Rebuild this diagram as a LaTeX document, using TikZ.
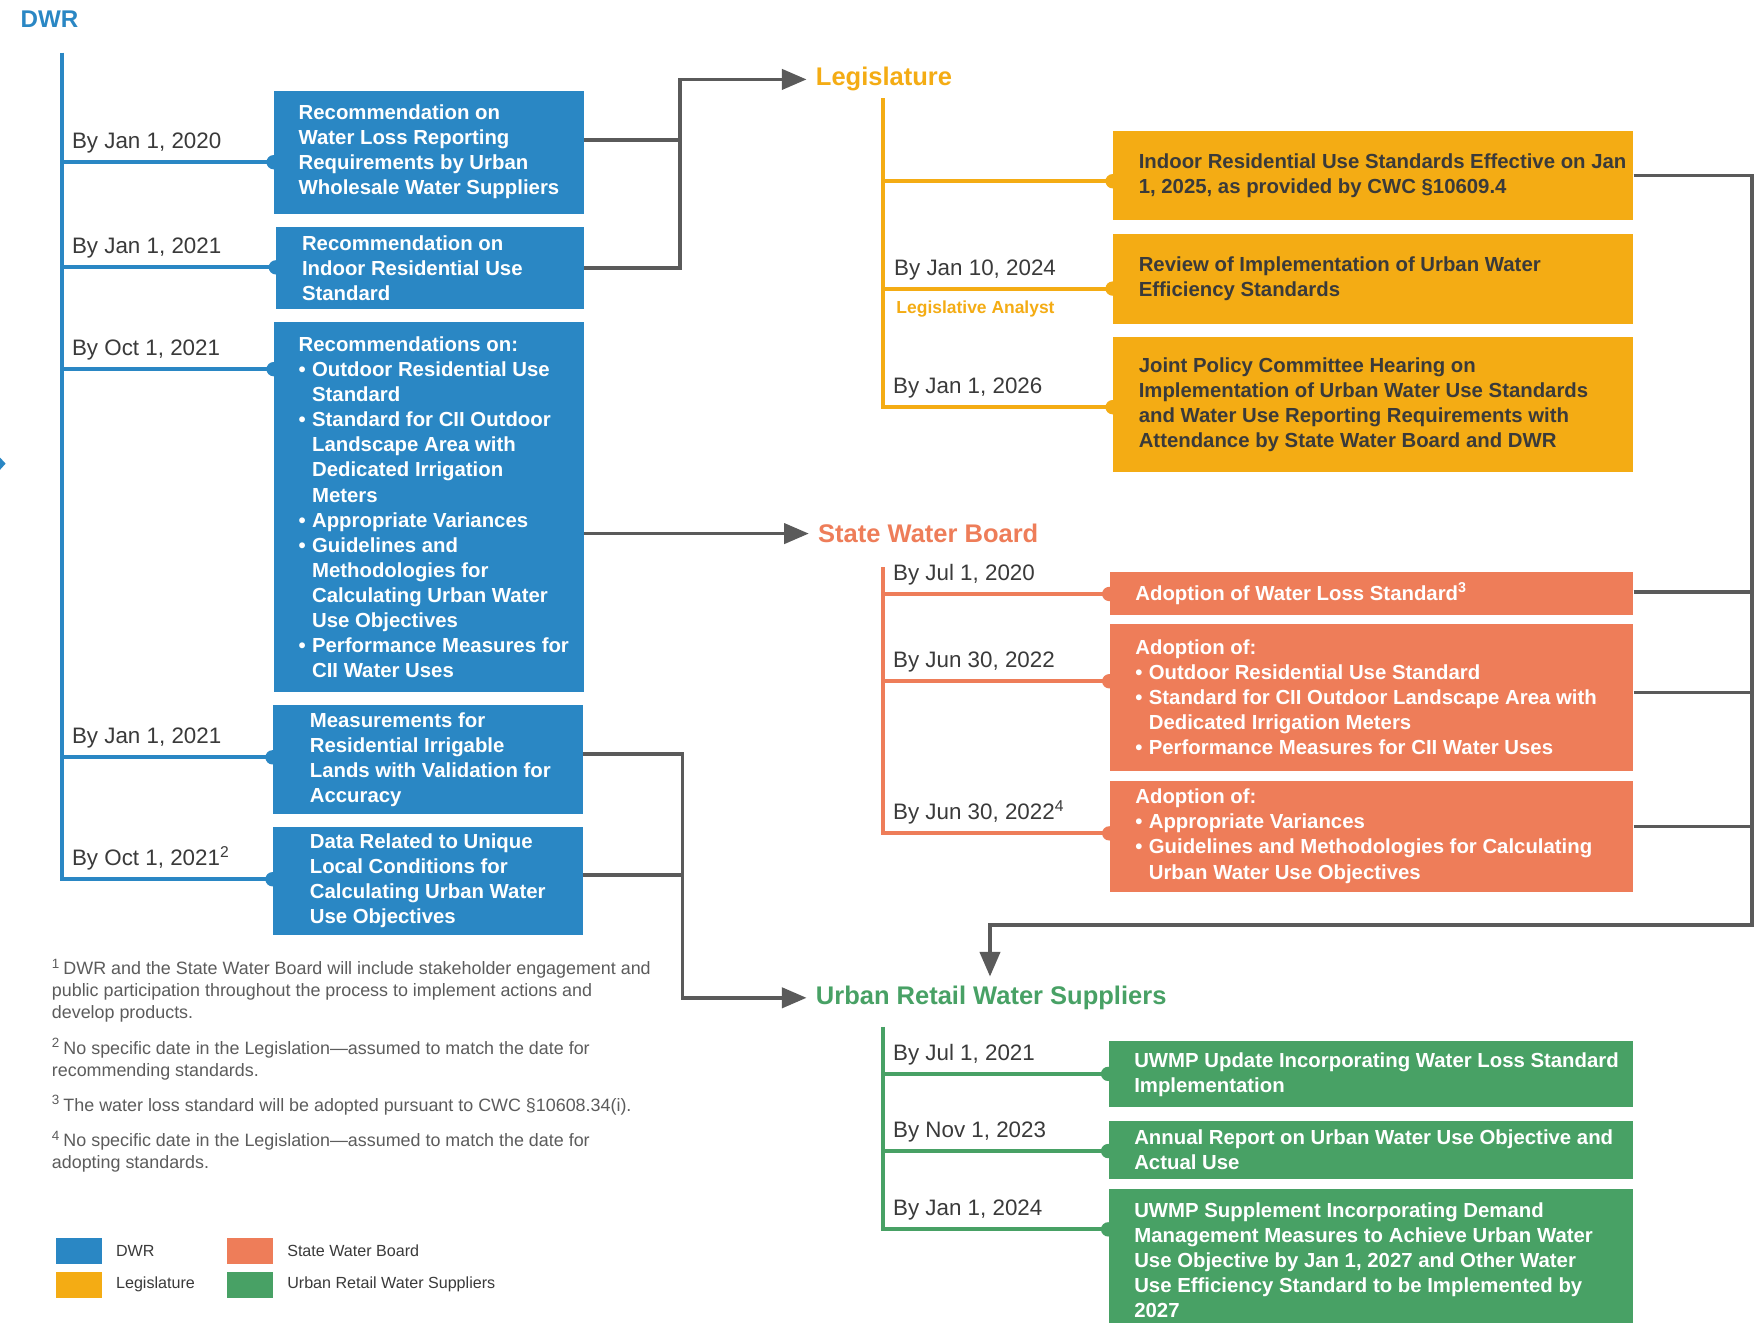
\documentclass[tikz,border=0pt]{standalone}
\usepackage{fontspec}
\setmainfont{Liberation Sans}
\usetikzlibrary{arrows.meta,calc,positioning,fit}
\definecolor{dwrblue}{HTML}{2A87C4}
\definecolor{legorange}{HTML}{F4AC14}
\definecolor{swbsalmon}{HTML}{EE7D59}
\definecolor{urbgreen}{HTML}{48A165}
\definecolor{flowgray}{HTML}{5A5A5A}
\definecolor{dateink}{HTML}{3A3A3A}
\definecolor{noteink}{HTML}{5C5C5C}
\newcommand{\bpt}{\makebox[6pt][l]{\textbullet}}
\newcommand{\bind}{\hspace*{6pt}}
\tikzset{
  stagebox/.style={rectangle,inner sep=0pt,draw=none},
  boxtext/.style={inner sep=0pt,align=left,text=white,
    font=\fontsize{9.1}{11.2}\selectfont\bfseries},
  datelabel/.style={inner sep=0pt,text=dateink,font=\fontsize{10}{12}\selectfont},
  agencytitle/.style={inner sep=0pt,font=\fontsize{11.4}{13}\selectfont\bfseries},
  timeline/.style={line width=1.8pt},
  flowline/.style={draw=flowgray,line width=1.6pt},
  flowarrow/.style={flowline,shorten >=4pt,-{Triangle[length=11pt,width=9pt]}},
  notetext/.style={inner sep=0pt,align=left,text=noteink,font=\fontsize{8}{9.75}\selectfont},
  legendtext/.style={inner sep=0pt,text=dateink,font=\fontsize{7.2}{9}\selectfont},
}

\begin{document}
\begin{tikzpicture}[x=0.5pt,y=-0.5pt]
  \fill[white] (0,0) rectangle (1568,1182);
  \useasboundingbox (0,0) rectangle (1568,1182);
  \fill[dwrblue] (0,409) -- (5,414.5) -- (0,420) -- cycle;

  % agency titles
  \node[agencytitle,text=dwrblue,anchor=west,font=\fontsize{10.8}{13}\selectfont\bfseries] (dwr) at (18,17) {DWR};
  \node[agencytitle,text=legorange,anchor=west] (legis) at (729,71) {Legislature};
  \node[agencytitle,text=swbsalmon,anchor=west] (swb) at (731,477) {State Water Board};
  \node[agencytitle,text=urbgreen,anchor=west] (urs) at (729,892) {Urban Retail Water Suppliers};

  % DWR boxes
  \node[stagebox,fill=dwrblue,fit={(245,81)(522,191)}] (B1) {};
  \node[boxtext,anchor=west] (B1txt) at ([xshift=11pt]B1.west)
    {Recommendation on\\Water Loss Reporting\\Requirements by Urban\\Wholesale Water Suppliers};
  \node[stagebox,fill=dwrblue,fit={(247,203)(522,276)}] (B2) {};
  \node[boxtext,anchor=west] (B2txt) at ([xshift=11.5pt]B2.west)
    {Recommendation on\\Indoor Residential Use\\Standard};
  \node[stagebox,fill=dwrblue,fit={(245,288)(522,619)}] (B3) {};
  \node[boxtext,anchor=west] (B3txt) at ([xshift=11pt]B3.west)
    {Recommendations on:\\\bpt Outdoor Residential Use\\\bind Standard\\\bpt Standard for CII Outdoor\\\bind Landscape Area with\\\bind Dedicated Irrigation\\\bind Meters\\\bpt Appropriate Variances\\\bpt Guidelines and\\\bind Methodologies for\\\bind Calculating Urban Water\\\bind Use Objectives\\\bpt Performance Measures for\\\bind CII Water Uses};
  \node[stagebox,fill=dwrblue,fit={(244,630)(521,728)}] (B4) {};
  \node[boxtext,anchor=west] (B4txt) at ([xshift=16.5pt]B4.west)
    {Measurements for\\Residential Irrigable\\Lands with Validation for\\Accuracy};
  \node[stagebox,fill=dwrblue,fit={(244,739)(521,836)}] (B5) {};
  \node[boxtext,anchor=west] (B5txt) at ([xshift=16.5pt]B5.west)
    {Data Related to Unique\\Local Conditions for\\Calculating Urban Water\\Use Objectives};

  % DWR timeline
  \coordinate (dwrtop) at (55,47);
  \foreach \n/\y in {1/145,2/239,3/330,4/677,5/786}
    {\coordinate (dwr\n) at (55,\y);}
  \draw[timeline,draw=dwrblue] (dwrtop) -- (dwr5) -- (dwr5 -| B5.west);
  \foreach \n/\txt in {1/{By Jan 1, 2020},2/{By Jan 1, 2021},3/{By Oct 1, 2021},
      4/{By Jan 1, 2021},5/{By Oct 1, 2021\textsuperscript{2}}}
    {\draw[timeline,draw=dwrblue] (dwr\n) -- (dwr\n -| B\n.west);
     \fill[dwrblue] (dwr\n -| B\n.west) circle (3.2pt);
     \node[datelabel,anchor=base west] (dwrdate\n) at ([xshift=4.5pt,yshift=6pt]dwr\n) {\txt};}

  % Legislature boxes
  \node[stagebox,fill=legorange,fit={(995,117)(1460,197)}] (O1) {};
  \node[boxtext,text=dateink,anchor=west] (O1txt) at ([xshift=11.5pt]O1.west)
    {Indoor Residential Use Standards Effective on Jan\\1, 2025, as provided by CWC §10609.4};
  \node[stagebox,fill=legorange,fit={(995,209)(1460,290)}] (O2) {};
  \node[boxtext,text=dateink,anchor=west] (O2txt) at ([xshift=11.5pt]O2.west)
    {Review of Implementation of Urban Water\\Efficiency Standards};
  \node[stagebox,fill=legorange,fit={(995,301)(1460,422)}] (O3) {};
  \node[boxtext,text=dateink,anchor=west] (O3txt) at ([xshift=11.5pt]O3.west)
    {Joint Policy Committee Hearing on\\Implementation of Urban Water Use Standards\\and Water Use Reporting Requirements with\\Attendance by State Water Board and DWR};

  % Legislature timeline
  \coordinate (legtop) at (789,88);
  \foreach \n/\y in {1/162,2/258,3/364}
    {\coordinate (leg\n) at (789,\y);}
  \draw[timeline,draw=legorange] (legtop) -- (leg3) -- (leg3 -| O3.west);
  \foreach \n in {1,2,3}
    {\draw[timeline,draw=legorange] (leg\n) -- (leg\n -| O\n.west);
     \fill[legorange] (leg\n -| O\n.west) circle (3.2pt);}
  \node[datelabel,anchor=base west] (legdate2) at ([xshift=5pt,yshift=6pt]leg2) {By Jan 10, 2024};
  \node[datelabel,anchor=base west] (legdate3) at ([xshift=4.5pt,yshift=6pt]leg3) {By Jan 1, 2026};
  \node[inner sep=0pt,anchor=base west,text=legorange,font=\fontsize{7.8}{9}\selectfont\bfseries]
    (analyst) at ([xshift=6pt,yshift=-11pt]leg2) {Legislative Analyst};

  % State Water Board boxes
  \node[stagebox,fill=swbsalmon,fit={(992,511)(1460,550)}] (S1) {};
  \node[boxtext,anchor=west] (S1txt) at ([xshift=11.5pt]S1.west)
    {Adoption of Water Loss Standard\textsuperscript{3}};
  \node[stagebox,fill=swbsalmon,fit={(992,558)(1460,689)}] (S2) {};
  \node[boxtext,anchor=west] (S2txt) at ([xshift=11.5pt]S2.west)
    {Adoption of:\\\bpt Outdoor Residential Use Standard\\\bpt Standard for CII Outdoor Landscape Area with\\\bind Dedicated Irrigation Meters\\\bpt Performance Measures for CII Water Uses};
  \node[stagebox,fill=swbsalmon,fit={(992,698)(1460,797)}] (S3) {};
  \node[boxtext,anchor=west] (S3txt) at ([xshift=11.5pt]S3.west)
    {Adoption of:\\\bpt Appropriate Variances\\\bpt Guidelines and Methodologies for Calculating\\\bind Urban Water Use Objectives};

  % State Water Board timeline
  \coordinate (swbtop) at (789,507);
  \foreach \n/\y in {1/531,2/609,3/745}
    {\coordinate (swb\n) at (789,\y);}
  \draw[timeline,draw=swbsalmon] (swbtop) -- (swb3) -- (swb3 -| S3.west);
  \foreach \n/\txt in {1/{By Jul 1, 2020},2/{By Jun 30, 2022},3/{By Jun 30, 2022\textsuperscript{4}}}
    {\draw[timeline,draw=swbsalmon] (swb\n) -- (swb\n -| S\n.west);
     \fill[swbsalmon] (swb\n -| S\n.west) circle (3.2pt);
     \node[datelabel,anchor=base west] (swbdate\n) at ([xshift=4.5pt,yshift=6pt]swb\n) {\txt};}

  % Urban Retail Water Suppliers boxes
  \node[stagebox,fill=urbgreen,fit={(991,931)(1460,990)}] (G1) {};
  \node[boxtext,anchor=west] (G1txt) at ([xshift=11.5pt]G1.west)
    {UWMP Update Incorporating Water Loss Standard\\Implementation};
  \node[stagebox,fill=urbgreen,fit={(991,1002)(1460,1054)}] (G2) {};
  \node[boxtext,anchor=west] (G2txt) at ([xshift=11.5pt]G2.west)
    {Annual Report on Urban Water Use Objective and\\Actual Use};
  \node[stagebox,fill=urbgreen,fit={(991,1063)(1460,1190)}] (G3) {};
  \node[boxtext,anchor=west] (G3txt) at ([xshift=11.5pt]G3.west)
    {UWMP Supplement Incorporating Demand\\Management Measures to Achieve Urban Water\\Use Objective by Jan 1, 2027 and Other Water\\Use Efficiency Standard to be Implemented by\\2027};

  % Urban Retail Water Suppliers timeline
  \coordinate (urstop) at (789,918);
  \foreach \n/\y in {1/960,2/1029,3/1099}
    {\coordinate (urs\n) at (789,\y);}
  \draw[timeline,draw=urbgreen] (urstop) -- (urs3) -- (urs3 -| G3.west);
  \foreach \n/\txt in {1/{By Jul 1, 2021},2/{By Nov 1, 2023},3/{By Jan 1, 2024}}
    {\draw[timeline,draw=urbgreen] (urs\n) -- (urs\n -| G\n.west);
     \fill[urbgreen] (urs\n -| G\n.west) circle (3.2pt);
     \node[datelabel,anchor=base west] (ursdate\n) at ([xshift=4.5pt,yshift=6pt]urs\n) {\txt};}

  % hand-offs between agencies
  \coordinate (legjoin) at (608,71);
  \coordinate (urbjoin) at (610,892);
  \coordinate (railbot) at (1566,827);
  \coordinate (dropx) at (885,0);
  \draw[flowarrow] ([yshift=5.5pt]B1.east) -| (legjoin) -- (legis.west);
  \draw[flowline] (B2.east) -| (legjoin);
  \draw[flowarrow] (B3.east |- swb.west) -- (swb.west);
  \draw[flowarrow] ([yshift=2.5pt]B4.east) -| (urbjoin) -- (urs.west);
  \draw[flowline] ([yshift=2.75pt]B5.east) -| (urbjoin);
  \draw[flowarrow] (O1.east) -| (railbot) -| (urs.north -| dropx);
  \draw[flowline] ([yshift=0.75pt]S1.east) -| (railbot);
  \draw[flowline] ([yshift=2.25pt]S2.east) -| (railbot);
  \draw[flowline] ([yshift=4.25pt]S3.east) -| (railbot);

  % footnotes
  \node[notetext,anchor=north west] (fn1) at (46,857)
    {\textsuperscript{1}\,DWR and the State Water Board will include stakeholder engagement and\\public participation throughout the process to implement actions and\\develop products.};
  \node[notetext,anchor=north west] (fn2) at (46,928)
    {\textsuperscript{2}\,No specific date in the Legislation—assumed to match the date for\\recommending standards.};
  \node[notetext,anchor=north west] (fn3) at (46,979)
    {\textsuperscript{3}\,The water loss standard will be adopted pursuant to CWC §10608.34(i).};
  \node[notetext,anchor=north west] (fn4) at (46,1011)
    {\textsuperscript{4}\,No specific date in the Legislation—assumed to match the date for\\adopting standards.};

  % legend
  \foreach \nm/\col/\x/\y/\txt in {dwr/dwrblue/50/1107/DWR,leg/legorange/50/1137/Legislature,
      swb/swbsalmon/203/1107/State Water Board,urb/urbgreen/203/1137/Urban Retail Water Suppliers}
    {\node[stagebox,fill=\col,fit={(\x,\y)(\x+41,\y+23)}] (key\nm) {};
     \node[legendtext,anchor=west] (key\nm txt) at ([xshift=6pt]key\nm.east) {\txt};}
\end{tikzpicture}
\end{document}
